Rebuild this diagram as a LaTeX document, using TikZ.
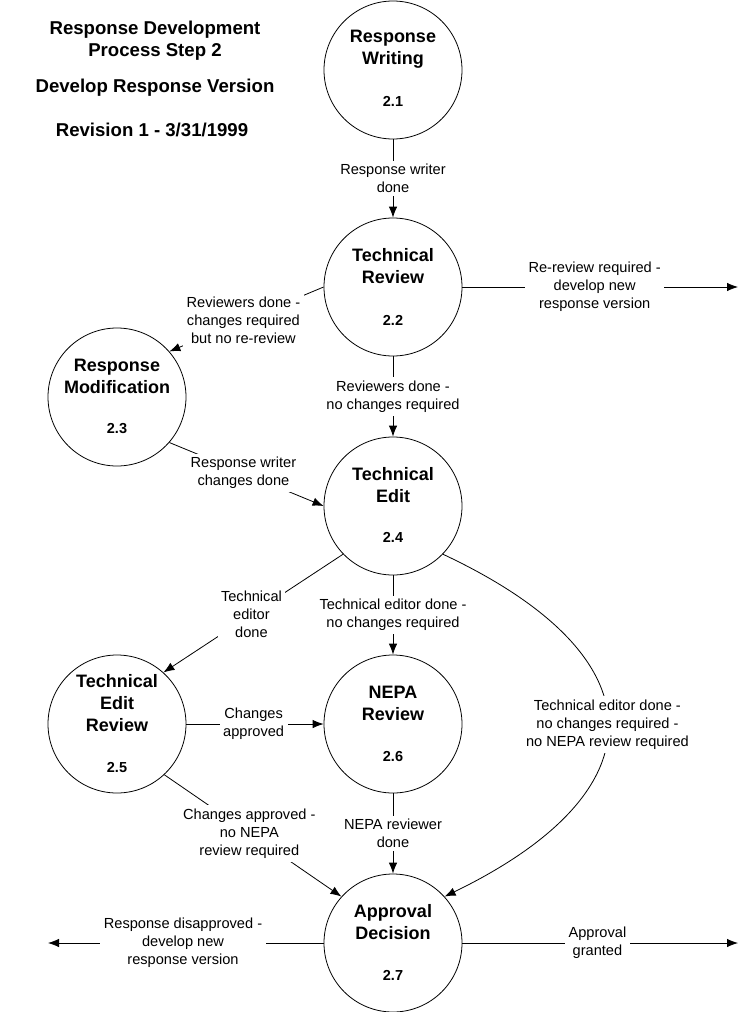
\documentclass[tikz,border=0pt]{standalone}
\usepackage{fontspec}
\setmainfont{Liberation Sans}
\usetikzlibrary{arrows.meta}

\tikzset{
  proc/.style={circle, draw, minimum size=138pt, inner sep=0pt},
  ptitle/.style={font=\fontsize{18}{22}\selectfont\bfseries, align=center},
  pnum/.style={font=\fontsize{14.5}{17}\selectfont\bfseries},
  flow/.style={font=\fontsize{14.6}{18}\selectfont, align=center, fill=white, inner sep=3.5pt},
  heading/.style={font=\fontsize{18.6}{22}\selectfont\bfseries, align=center}
}

\begin{document}
\begin{tikzpicture}[x=1pt, y=-1pt, line width=0.8pt, >={Latex[length=11pt,width=8.5pt]}]

    % Fix the page size
    \useasboundingbox (0,0) rectangle (745,1012);

    % Heading at the top left
    \node[heading] (hd1) at (155,41) {Response Development\\Process Step 2};
    \node[heading] (hd2) at (155,88) {Develop Response Version};
    \node[heading] (hd3) at (152,130) {Revision 1 - 3/31/1999};

    % The process circles
    \node[proc] (w1) at (393,70) {};
    \node[proc] (w2) at (393,287) {};
    \node[proc] (w3) at (117,397) {};
    \node[proc] (w4) at (393,506) {};
    \node[proc] (w5) at (117,724) {};
    \node[proc] (w6) at (393,724) {};
    \node[proc] (w7) at (393,943) {};

    % Titles and numbers inside the circles
    \node[ptitle] (t1) at ([yshift=21pt]w1.center) {Response\\Writing};
    \node[pnum] (n1) at ([yshift=-31pt]w1.center) {2.1};
    \node[ptitle] (t2) at ([yshift=21pt]w2.center) {Technical\\Review};
    \node[pnum] (n2) at ([yshift=-33pt]w2.center) {2.2};
    \node[ptitle] (t3) at ([yshift=21pt]w3.center) {Response\\Modification};
    \node[pnum] (n3) at ([yshift=-32pt]w3.center) {2.3};
    \node[ptitle] (t4) at ([yshift=21pt]w4.center) {Technical\\Edit};
    \node[pnum] (n4) at ([yshift=-31pt]w4.center) {2.4};
    \node[ptitle] (t5) at ([yshift=21pt]w5.center) {Technical\\Edit\\Review};
    \node[pnum] (n5) at ([yshift=-43pt]w5.center) {2.5};
    \node[ptitle] (t6) at ([yshift=21pt]w6.center) {NEPA\\Review};
    \node[pnum] (n6) at ([yshift=-32pt]w6.center) {2.6};
    \node[ptitle] (t7) at ([yshift=21pt]w7.center) {Approval\\Decision};
    \node[pnum] (n7) at ([yshift=-32pt]w7.center) {2.7};

    % Free ends of the outgoing flows
    \coordinate (reout) at (738,287);
    \coordinate (disout) at (48,943);
    \coordinate (okout) at (738,943);

    % Flows between the circles
    \draw[->] (w1) -- node[flow] {Response writer\\done} (w2);
    \draw[->] (w2) -- node[flow, pos=0.48] {Re-review required -\\develop new\\response version} (reout);
    \draw[->] (w2.west) -- node[flow, pos=0.52] {Reviewers done -\\changes required\\but no re-review} (w3.41);
    \draw[->] (w2) -- node[flow] {Reviewers done -\\no changes required} (w4);
    \draw[->] (w3.-41) -- node[flow, pos=0.48] {Response writer\\changes done} (w4.west);
    \draw[->] (w4.-136) -- node[flow, pos=0.51] {Technical\\editor\\done} (w5.48);
    \draw[->] (w4) -- node[flow] {Technical editor done -\\no changes required} (w6);
    \draw[->] (w5) -- node[flow, pos=0.49] {Changes\\approved} (w6);
    \draw[->] (w4.-44) .. controls (662,657) and (662,791) .. node[flow] {Technical editor done -\\no changes required -\\no NEPA review required} (w7.42);
    \draw[->] (w6) -- node[flow] {NEPA reviewer\\done} (w7);
    \draw[->] (w5.-47) -- node[flow, pos=0.48] {Changes approved -\\no NEPA\\review required} (w7.138);
    \draw[->] (w7) -- node[flow, pos=0.51] {Response disapproved -\\develop new\\response version} (disout);
    \draw[->] (w7) -- node[flow, pos=0.49] {Approval\\granted} (okout);

\end{tikzpicture}
\end{document}
